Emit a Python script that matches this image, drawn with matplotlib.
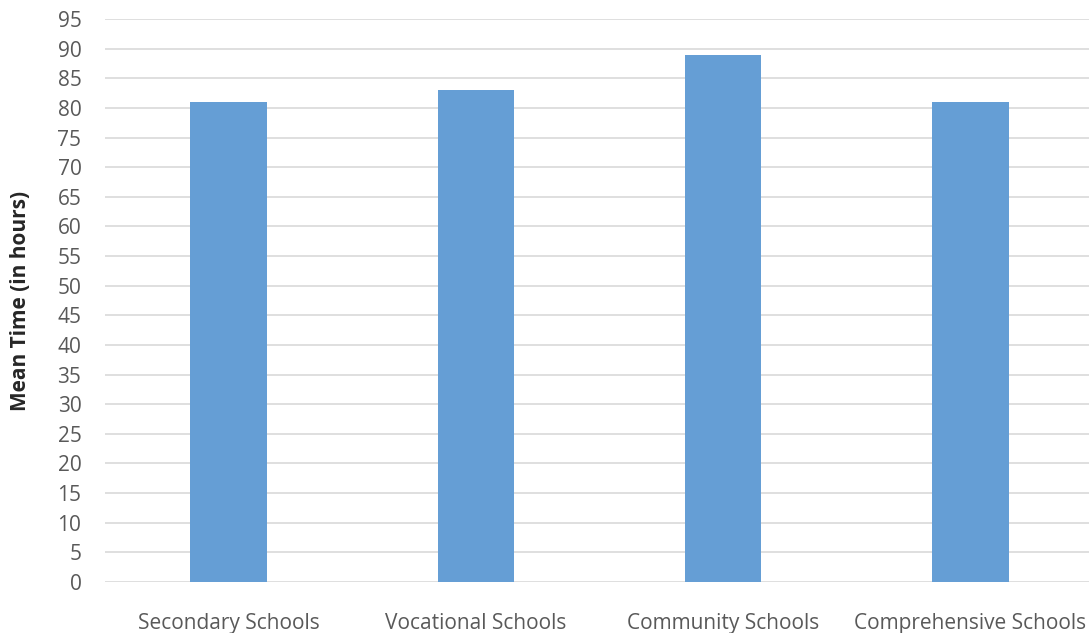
import matplotlib
matplotlib.use('Agg')
import matplotlib.pyplot as plt

categories = ['Secondary Schools', 'Vocational Schools', 'Community Schools', 'Comprehensive Schools']
mean_hours = [81, 83, 89, 81]
y_ticks = list(range(0, 100, 5))

BAR_COLOR = '#659ed5'
GRID_COLOR = '#d9d9d9'
TEXT_COLOR = '#595959'

plt.rcParams['font.family'] = ['Open Sans', 'DejaVu Sans']

fig = plt.figure(figsize=(10.89, 6.33), dpi=100)
ax = fig.add_axes([105 / 1089, 1 - 582 / 633, 1 - 105 / 1089, (582 - 19) / 633])

x = range(len(categories))
ax.bar(x, mean_hours, width=0.31, color=BAR_COLOR, zorder=3)

ax.set_xlim(-0.5, 3.48)
ax.set_ylim(0, 95)
ax.set_yticks(y_ticks)
ax.set_xticks(list(x))
ax.set_xticklabels(categories)
ax.yaxis.grid(True, color=GRID_COLOR, linewidth=1.2, zorder=0)
ax.set_axisbelow(True)

for s in ax.spines.values():
    s.set_visible(False)
ax.tick_params(axis='both', length=0, labelsize=15, labelcolor=TEXT_COLOR)
ax.tick_params(axis='x', pad=22)
ax.tick_params(axis='y', pad=17)

ax.set_ylabel('Mean Time (in hours)', fontsize=15, fontweight='bold', color='#262626', labelpad=19)

fig.savefig('out.png', dpi=100)
plt.close(fig)
